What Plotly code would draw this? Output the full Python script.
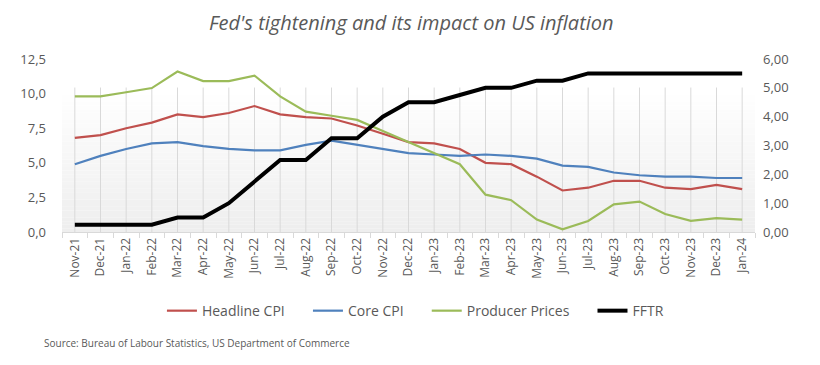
import plotly.graph_objects as go

months = ["Nov-21", "Dec-21", "Jan-22", "Feb-22", "Mar-22", "Apr-22", "May-22", "Jun-22",
          "Jul-22", "Aug-22", "Sep-22", "Oct-22", "Nov-22", "Dec-22", "Jan-23", "Feb-23",
          "Mar-23", "Apr-23", "May-23", "Jun-23", "Jul-23", "Aug-23", "Sep-23", "Oct-23",
          "Nov-23", "Dec-23", "Jan-24"]

headline_cpi = [6.8, 7.0, 7.5, 7.9, 8.5, 8.3, 8.6, 9.1, 8.5, 8.3, 8.2, 7.7, 7.1, 6.5,
                6.4, 6.0, 5.0, 4.9, 4.0, 3.0, 3.2, 3.7, 3.7, 3.2, 3.1, 3.4, 3.1]
core_cpi = [4.9, 5.5, 6.0, 6.4, 6.5, 6.2, 6.0, 5.9, 5.9, 6.3, 6.6, 6.3, 6.0, 5.7,
            5.6, 5.5, 5.6, 5.5, 5.3, 4.8, 4.7, 4.3, 4.1, 4.0, 4.0, 3.9, 3.9]
producer_prices = [9.8, 9.8, 10.1, 10.4, 11.6, 10.9, 10.9, 11.3, 9.8, 8.7, 8.4, 8.1, 7.3, 6.5,
                   5.7, 4.9, 2.7, 2.3, 0.9, 0.2, 0.8, 2.0, 2.2, 1.3, 0.8, 1.0, 0.9]
fftr = [0.25, 0.25, 0.25, 0.25, 0.5, 0.5, 1.0, 1.75, 2.5, 2.5, 3.25, 3.25, 4.0, 4.5,
        4.5, 4.75, 5.0, 5.0, 5.25, 5.25, 5.5, 5.5, 5.5, 5.5, 5.5, 5.5, 5.5]

left_ticks = [0, 2.5, 5, 7.5, 10, 12.5]
left_labels = ["0,0", "2,5", "5,0", "7,5", "10,0", "12,5"]
right_ticks = [0, 1, 2, 3, 4, 5, 6]
right_labels = ["0,00", "1,00", "2,00", "3,00", "4,00", "5,00", "6,00"]

FONT = "Open Sans"
TXT = "#595959"
PAD = "\u00a0" * 5

fig = go.Figure()
fig.add_trace(go.Scatter(x=months, y=headline_cpi, name="Headline CPI" + PAD, mode="lines",
                         line=dict(color="#C0504D", width=2.2)))
fig.add_trace(go.Scatter(x=months, y=core_cpi, name="Core CPI" + PAD, mode="lines",
                         line=dict(color="#4F81BD", width=2.2)))
fig.add_trace(go.Scatter(x=months, y=producer_prices, name="Producer Prices" + PAD, mode="lines",
                         line=dict(color="#9BBB59", width=2.2)))
fig.add_trace(go.Scatter(x=months, y=fftr, name="FFTR", mode="lines", yaxis="y2",
                         line=dict(color="#000000", width=4)))

# gradient plot background (Excel-style), drawn as thin bands
shapes = []
top = 0.835
n = 40
for i in range(n):
    f = i / (n - 1)
    g = int(round(238 + (255 - 238) * f))
    shapes.append(dict(type="rect", xref="paper", yref="paper",
                       x0=0, x1=1, y0=top * i / n, y1=top * (i + 1) / n,
                       fillcolor=f"rgb({g},{g},{g})", line=dict(width=0), layer="below"))
for m in months:
    shapes.append(dict(type="line", xref="x", yref="paper", x0=m, x1=m, y0=0, y1=top,
                       line=dict(color="#d9d9d9", width=1), layer="below"))

# page body has an 8px margin, so the figure is sized/offset to compensate
fig.update_layout(
    width=812, height=357,
    margin=dict(l=49, r=65, t=51, b=133),
    paper_bgcolor="white", plot_bgcolor="white",
    font=dict(family=FONT, color=TXT),
    shapes=shapes,
    showlegend=True,
    legend=dict(orientation="h", x=0.51, xanchor="center", y=-0.457, yanchor="middle",
                font=dict(size=14, color=TXT), bgcolor="rgba(0,0,0,0)"),
    xaxis=dict(type="category", range=[-0.5, len(months) - 0.5], tickangle=-90,
               tickson="boundaries", ticks="outside", ticklen=5, tickcolor="#d9d9d9",
               showgrid=False, showline=True, linecolor="#d9d9d9", linewidth=1,
               tickfont=dict(size=12, color=TXT), zeroline=False),
    yaxis=dict(range=[0, 12.5], tickvals=left_ticks, ticktext=left_labels,
               showgrid=False, zeroline=False, showline=False,
               tickfont=dict(size=13, color=TXT), ticklabelstandoff=15),
    yaxis2=dict(range=[0, 6], tickvals=right_ticks, ticktext=right_labels,
                overlaying="y", side="right", showgrid=False, zeroline=False,
                showline=False, tickfont=dict(size=13, color=TXT), ticklabelstandoff=7),
    annotations=[
        dict(text="Fed's tightening and its impact on US inflation", xref="paper", yref="paper",
             x=0.505, y=(232 - 22) / 173, xanchor="center", yanchor="middle", showarrow=False,
             font=dict(size=20, color=TXT, family=FONT, style="italic")),
        dict(text="Source: Bureau of Labour Statistics, US Department of Commerce",
             xref="paper", yref="paper", x=-0.029, y=(232 - 343) / 173,
             xanchor="left", yanchor="middle", showarrow=False,
             font=dict(size=10, color=TXT, family=FONT)),
    ],
)

fig.write_html("out.html")
